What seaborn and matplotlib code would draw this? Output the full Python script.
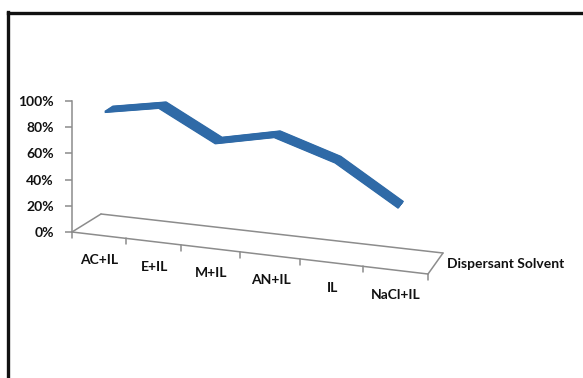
import numpy as np
import pandas as pd
import matplotlib
matplotlib.use("Agg")
import matplotlib.pyplot as plt
import seaborn as sns
from matplotlib.transforms import Transform, IdentityTransform
from matplotlib.lines import Line2D
from matplotlib.ticker import PercentFormatter

# ---- data ----
categories = ["AC+IL", "E+IL", "M+IL", "AN+IL", "IL", "NaCl+IL"]
values = [0.91, 0.99, 0.77, 0.87, 0.73, 0.44]
y_ticks = [0.0, 0.2, 0.4, 0.6, 0.8, 1.0]
axis_title = "Dispersant Solvent"

LINE = "#2f6aa7"
GRID = "#8c8c8c"

sns.set_theme(style="white")
plt.rcParams["font.family"] = ["Lato", "DejaVu Sans"]

W, H, DPI = 583, 378, 100
fig = plt.figure(figsize=(W / DPI, H / DPI), dpi=DPI)
fig.patch.set_facecolor("white")
ax = fig.add_axes([72 / W, 146 / H, 356 / W, 131 / H])
ax.set_facecolor("none")

# perspective-like spacing of categories along the floor
K = 0.0221
def fwd(c):
    c = np.asarray(c, float)
    return c + K * c * c
def inv(p):
    p = np.asarray(p, float)
    return (-1 + np.sqrt(np.clip(1 + 4 * K * p, 0, None))) / (2 * K)
ax.set_xscale("function", functions=(fwd, inv))

SLOPE = 0.118  # front edge slope (display px per px)

class Floor3D(Transform):
    """Shear + depth shift applied in display space (pseudo 3-D)."""
    input_dims = 2
    output_dims = 2
    is_separable = False
    has_inverse = False

    def __init__(self, dep, ox=0.0, oy=0.0):
        super().__init__()
        self._dep, self._ox, self._oy = dep, ox, oy

    def transform_non_affine(self, xy):
        xy = np.asarray(xy, float).reshape(-1, 2)
        x, y = xy[:, 0], xy[:, 1]
        x0, width = ax.bbox.x0, ax.bbox.width
        t = (x - x0) / width
        xo = x + self._dep * (29 - 14 * t) + self._ox
        yo = y - SLOPE * (x - x0) + self._dep * (18 + 3 * t) + self._oy
        return np.column_stack([xo, yo])

df = pd.DataFrame({"solvent": categories, "value": values})
df["pos"] = np.arange(len(categories)) + 0.5

# ribbon made of stacked lines over a depth range
for d in np.linspace(0.22, 0.50, 16):
    sns.lineplot(data=df, x="pos", y="value", ax=ax, color=LINE,
                 lw=1.7, sort=False)
    ln = ax.lines[-1]
    ln.set_transform(ax.transData + Floor3D(d))
    ln.set_clip_on(False)
    ln.set_solid_joinstyle("round")
    ln.set_solid_capstyle("butt")

ax.set_xlim(0, len(categories))
ax.set_ylim(0, 1)
ax.set_xticks([])
ax.set_yticks(y_ticks)
ax.yaxis.set_major_formatter(PercentFormatter(1.0, decimals=0))
ax.set_xlabel("")
ax.set_ylabel("")
for s in ["top", "right", "bottom"]:
    ax.spines[s].set_visible(False)
ax.spines["left"].set_color(GRID)
ax.spines["left"].set_linewidth(1.1)
ax.tick_params(axis="y", length=5, width=1.1, color=GRID, pad=8,
               labelsize=10, left=True)
for lab in ax.get_yticklabels():
    lab.set_fontweight("bold")
    lab.set_color("#111111")

# floor edges
def proj(c, v, d, ox=0.0, oy=0.0):
    p = ax.transData.transform(np.column_stack([np.atleast_1d(c), np.atleast_1d(v)]))
    return Floor3D(d, ox, oy).transform(p)

n = len(categories)
for d in (0.0, 1.0):
    ax.plot([0, n], [0, 0], color=GRID, lw=1.1,
            transform=ax.transData + Floor3D(d), clip_on=False)
for c in (0, n):
    p = np.vstack([proj(c, 0, 0.0), proj(c, 0, 1.0)])
    fig.add_artist(Line2D(p[:, 0], p[:, 1], color=GRID, lw=1.1,
                          transform=IdentityTransform()))
for c in range(n + 1):
    p = np.vstack([proj(c, 0, 0.0), proj(c, 0, 0.0, oy=-6)])
    fig.add_artist(Line2D(p[:, 0], p[:, 1], color=GRID, lw=1.1,
                          transform=IdentityTransform()))

# category labels
for i, lab in enumerate(categories):
    ax.text(df["pos"][i], 0, lab, transform=ax.transData + Floor3D(0, ox=1, oy=-25),
            ha="center", va="center", fontsize=10, fontweight="bold",
            color="#111111", clip_on=False)

ax.text(n, 0, axis_title, transform=ax.transData + Floor3D(0, ox=19, oy=10),
        ha="left", va="center", fontsize=10, fontweight="bold",
        color="#111111", clip_on=False)

# outer frame (top and left edges visible)
fig.add_artist(Line2D([8 / W, 8 / W], [0, 1 - 11.5 / H], transform=fig.transFigure,
                      color="#111111", lw=2.4, solid_capstyle="projecting"))
fig.add_artist(Line2D([8 / W, 1], [1 - 13 / H, 1 - 13 / H], transform=fig.transFigure,
                      color="#111111", lw=2.4, solid_capstyle="projecting"))

fig.savefig("out.png", dpi=DPI, facecolor="white")
